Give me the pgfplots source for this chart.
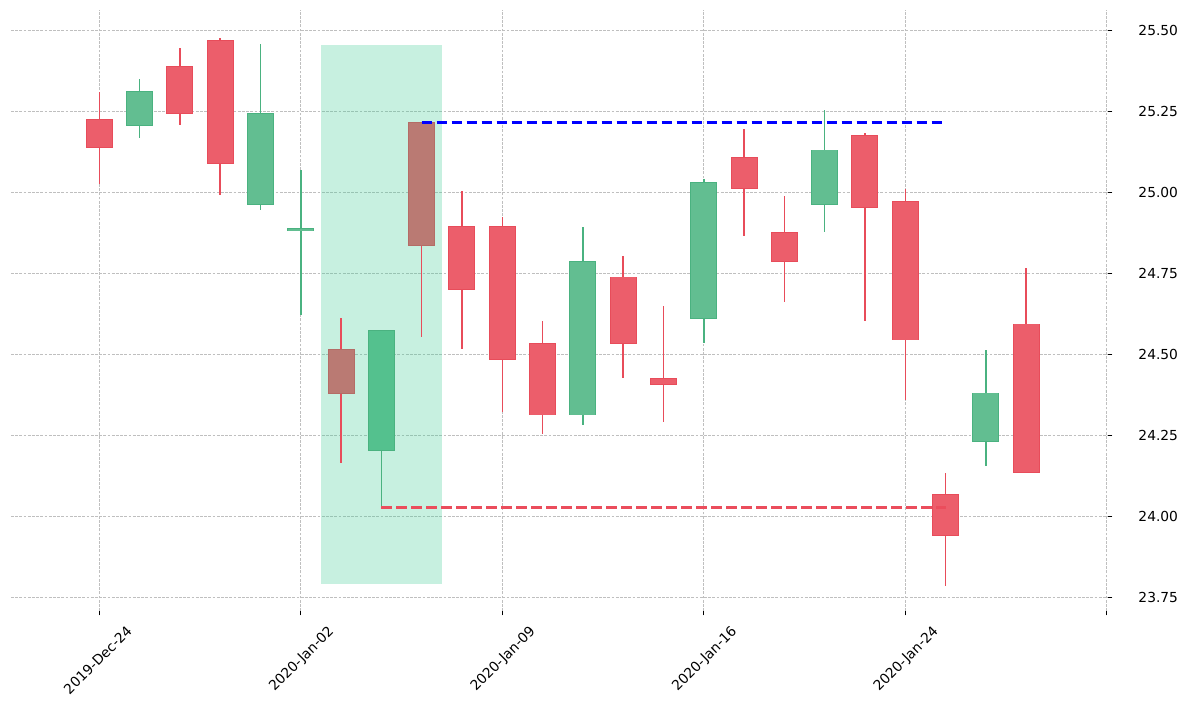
\documentclass[border=0pt]{standalone}
\usepackage{pgfplots}
\pgfplotsset{compat=1.18}
\usepackage{pgfplotstable}
\usepackage{fontspec}
\setmainfont{DejaVu Sans}

\definecolor{upfill}{RGB}{98,190,145}
\definecolor{upedge}{RGB}{74,178,128}
\definecolor{upfillb}{RGB}{84,193,142}
\definecolor{dnfill}{RGB}{236,94,107}
\definecolor{dnedge}{RGB}{232,76,90}
\definecolor{brfill}{RGB}{186,122,115}
\definecolor{bredge}{RGB}{180,108,102}
\definecolor{shadecol}{RGB}{68,205,152}
\definecolor{lvlred}{RGB}{235,77,92}

% candles: index, open, high, low, close
\pgfplotstableread{
i  o      h      l      c
0  25.226 25.311 25.027 25.138
2  25.390 25.446 25.207 25.243
3  25.470 25.477 24.992 25.088
9  24.895 25.003 24.516 24.699
10 24.895 24.923 24.321 24.483
11 24.534 24.602 24.254 24.312
13 24.739 24.804 24.427 24.533
14 24.427 24.650 24.290 24.406
16 25.109 25.196 24.864 25.011
17 24.877 24.990 24.661 24.786
19 25.177 25.184 24.603 24.952
20 24.973 25.011 24.359 24.543
21 24.068 24.135 23.785 23.941
23 24.594 24.767 24.135 24.135
}\down

\pgfplotstableread{
i  o      h      l      c
1  25.206 25.351 25.168 25.313
4  24.962 25.459 24.945 25.244
5  24.882 25.069 24.623 24.889
12 24.312 24.894 24.282 24.788
15 24.610 25.040 24.534 25.032
18 24.962 25.255 24.877 25.131
22 24.230 24.515 24.155 24.381
}\up

\pgfplotstableread{
i  o      h      l      c
7  24.202 24.575 24.028 24.575
}\upshade

\pgfplotstableread{
i  o      h      l      c
6  24.516 24.611 24.164 24.378
8  25.216 25.216 24.553 24.835
}\brown

\pgfplotsset{
  wick/.style={draw=none, no markers, forget plot,
    error bars/.cd, y dir=both, y explicit, error mark=none,
    error bar style={line width=0.75pt, draw=#1}},
  body/.style 2 args={draw=none, no markers, forget plot,
    error bars/.cd, y dir=both, y explicit, error mark=none,
    error bar style={line width=#2, draw=#1}},
}

\begin{document}
\begin{tikzpicture}
\useasboundingbox (-5.5pt,-47.5pt) rectangle (584pt,305.5pt);
\begin{axis}[
  scale only axis,
  width=548.5pt, height=300.5pt,
  xmin=-2.19, xmax=25.03,
  ymin=23.708, ymax=25.563,
  axis line style={draw=none},
  xtick={0,5,10,15,20,25},
  xticklabels={2019-Dec-24,2020-Jan-02,2020-Jan-09,2020-Jan-16,2020-Jan-24,{}},
  ytick={23.75,24,24.25,24.5,24.75,25,25.25,25.5},
  xtick pos=bottom, ytick pos=right, yticklabel pos=right,
  tick align=outside, major tick length=2.2pt,
  every tick/.style={black, line width=0.5pt},
  grid=major,
  major grid style={black!25, line width=0.4pt, dash pattern=on 1.4pt off 0.7pt},
  tick label style={font=\fontsize{6.9}{8}\selectfont},
  /pgf/number format/assume math mode=true,
  yticklabel style={anchor=west, xshift=9.5pt,
    /pgf/number format/.cd, fixed, fixed zerofill, precision=2},
  xticklabel style={inner sep=0pt, xshift=13.2pt, yshift=-4.4pt, rotate=45, anchor=north east},
]
% highlighted pattern window
\addplot[fill=shadecol, fill opacity=0.3, draw=none, forget plot]
  coordinates {(5.5,23.792) (8.5,23.792) (8.5,25.455) (5.5,25.455)} --cycle;

% wicks
\addplot[wick=dnedge] table[x=i, y expr=(\thisrow{h}+\thisrow{l})/2, y error expr=(\thisrow{h}-\thisrow{l})/2] {\down};
\addplot[wick=dnedge] table[x=i, y expr=(\thisrow{h}+\thisrow{l})/2, y error expr=(\thisrow{h}-\thisrow{l})/2] {\brown};
\addplot[wick=upedge] table[x=i, y expr=(\thisrow{h}+\thisrow{l})/2, y error expr=(\thisrow{h}-\thisrow{l})/2] {\up};
\addplot[wick=upedge] table[x=i, y expr=(\thisrow{h}+\thisrow{l})/2, y error expr=(\thisrow{h}-\thisrow{l})/2] {\upshade};

% bodies: edge, then fill
\addplot[body={dnedge}{13.5pt}] table[x=i, y expr=(\thisrow{o}+\thisrow{c})/2, y error expr=abs(\thisrow{o}-\thisrow{c})/2] {\down};
\addplot[body={dnfill}{12.5pt}] table[x=i, y expr=(\thisrow{o}+\thisrow{c})/2, y error expr={max(abs(\thisrow{o}-\thisrow{c})/2-0.0015,0)}] {\down};
\addplot[body={upedge}{13.5pt}] table[x=i, y expr=(\thisrow{o}+\thisrow{c})/2, y error expr=abs(\thisrow{o}-\thisrow{c})/2] {\up};
\addplot[body={upfill}{12.5pt}] table[x=i, y expr=(\thisrow{o}+\thisrow{c})/2, y error expr={max(abs(\thisrow{o}-\thisrow{c})/2-0.0015,0)}] {\up};
\addplot[body={upedge}{13.5pt}] table[x=i, y expr=(\thisrow{o}+\thisrow{c})/2, y error expr=abs(\thisrow{o}-\thisrow{c})/2] {\upshade};
\addplot[body={upfillb}{12.5pt}] table[x=i, y expr=(\thisrow{o}+\thisrow{c})/2, y error expr={max(abs(\thisrow{o}-\thisrow{c})/2-0.0015,0)}] {\upshade};
\addplot[body={bredge}{13.5pt}] table[x=i, y expr=(\thisrow{o}+\thisrow{c})/2, y error expr=abs(\thisrow{o}-\thisrow{c})/2] {\brown};
\addplot[body={brfill}{12.5pt}] table[x=i, y expr=(\thisrow{o}+\thisrow{c})/2, y error expr={max(abs(\thisrow{o}-\thisrow{c})/2-0.0015,0)}] {\brown};

% resistance / support levels
\addplot[blue, line width=1.35pt, dash pattern=on 5.35pt off 2.15pt, forget plot]
  coordinates {(8,25.216) (21,25.216)};
\addplot[lvlred, line width=1.35pt, dash pattern=on 5.35pt off 2.15pt, forget plot]
  coordinates {(7,24.028) (21,24.028)};
\end{axis}
\end{tikzpicture}
\end{document}
